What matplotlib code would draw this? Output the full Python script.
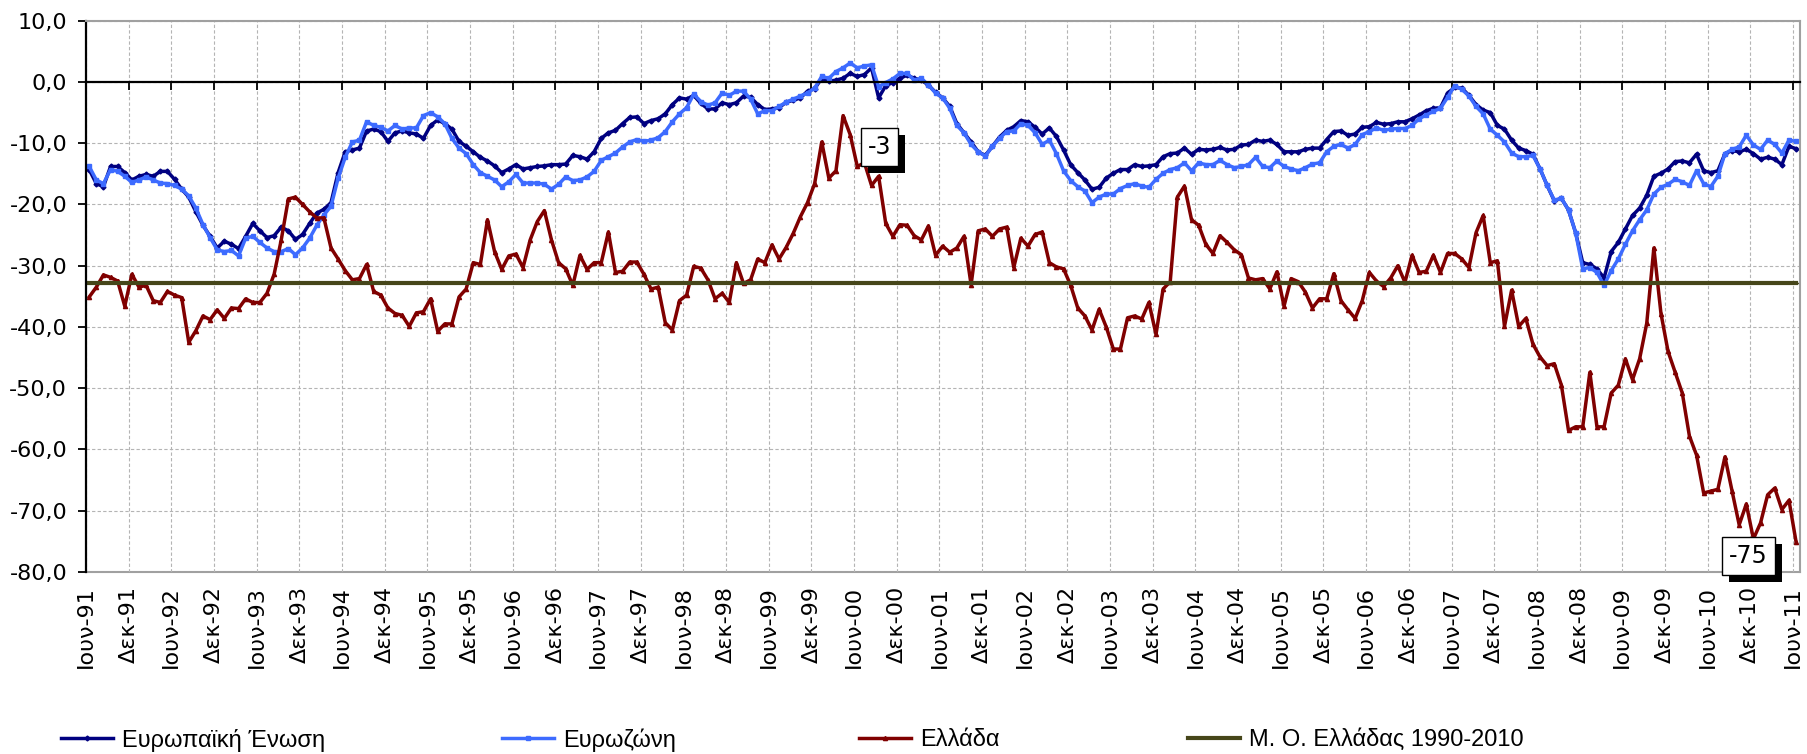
import numpy as np
import matplotlib
matplotlib.use("Agg")
import matplotlib.pyplot as plt
from matplotlib import patheffects

# Monthly consumer confidence indicator, Jun-91 .. Jun-11
eu = [-14.3, -16.6, -17.1, -13.8, -13.8, -14.8, -16.0, -15.4, -15.1, -15.4,
      -14.6, -14.6, -15.9, -17.5, -18.8, -21.2, -23.4, -25.2, -27.1, -26.0,
      -26.5, -27.2, -25.2, -23.1, -24.3, -25.4, -25.1, -23.7, -24.3, -25.7,
      -24.9, -23.1, -21.4, -20.8, -19.7, -14.8, -11.4, -11.1, -10.8, -8.0,
      -7.7, -8.1, -9.7, -8.3, -8.0, -8.3, -8.5, -9.2, -7.1, -6.2,
      -6.8, -7.7, -9.7, -10.5, -11.4, -12.3, -12.9, -13.7, -14.8, -14.2,
      -13.5, -14.2, -14.0, -13.8, -13.7, -13.5, -13.5, -13.4, -12.0, -12.2,
      -12.6, -11.4, -9.2, -8.3, -7.9, -6.8, -5.8, -5.7, -6.8, -6.3,
      -6.0, -5.2, -3.7, -2.6, -2.8, -2.2, -3.5, -4.4, -4.4, -3.4,
      -3.7, -3.4, -2.3, -2.5, -3.7, -4.5, -4.4, -4.2, -3.3, -3.0,
      -2.6, -1.5, -1.1, 0.6, 0.1, 0.3, 0.6, 1.4, 0.9, 1.2,
      2.3, -2.6, -0.6, -0.1, 0.6, 1.1, 0.6, 0.3, -0.5, -1.7,
      -2.6, -4.0, -6.8, -8.3, -9.8, -11.4, -12.0, -10.5, -9.0, -7.9,
      -7.3, -6.3, -6.5, -7.4, -8.5, -7.5, -8.9, -11.1, -13.5, -14.8,
      -16.0, -17.5, -17.2, -15.7, -14.9, -14.3, -14.3, -13.5, -13.8, -13.7,
      -13.5, -12.2, -11.7, -11.6, -10.8, -11.8, -11.0, -11.1, -11.0, -10.7,
      -11.1, -11.0, -10.3, -10.2, -9.5, -9.7, -9.5, -10.2, -11.4, -11.4,
      -11.4, -11.0, -10.8, -10.8, -9.4, -8.1, -8.0, -8.7, -8.5, -7.4,
      -7.3, -6.6, -6.9, -6.8, -6.5, -6.5, -6.0, -5.4, -4.7, -4.3,
      -4.2, -1.8, -0.9, -1.0, -2.2, -3.7, -4.6, -5.0, -7.1, -7.7,
      -9.5, -10.8, -11.2, -11.8, -14.2, -16.9, -19.4, -19.0, -20.9, -24.6,
      -29.5, -29.8, -30.5, -32.0, -27.7, -26.2, -24.0, -21.8, -20.6, -18.5,
      -15.4, -14.9, -14.2, -13.0, -12.9, -13.2, -11.8, -14.5, -14.8, -14.5,
      -11.7, -11.2, -11.4, -11.0, -11.7, -12.6, -12.3, -12.6, -13.5, -10.5,
      -10.9]

ez = [-13.8, -16.0, -16.6, -14.3, -14.6, -15.4, -16.4, -16.0, -15.5, -16.0,
      -16.5, -16.6, -16.9, -17.5, -18.6, -20.6, -23.3, -25.4, -27.4, -27.7,
      -27.5, -28.4, -25.5, -25.2, -26.2, -27.1, -27.7, -27.7, -27.2, -28.2,
      -27.1, -25.5, -23.4, -21.7, -20.3, -15.7, -12.3, -9.8, -9.5, -6.5,
      -7.1, -7.4, -8.0, -7.1, -7.7, -7.5, -7.5, -5.5, -5.0, -5.7,
      -6.8, -9.2, -10.8, -11.7, -13.5, -14.8, -15.4, -16.0, -17.1, -16.3,
      -15.1, -16.5, -16.5, -16.5, -16.7, -17.5, -16.7, -15.5, -16.1, -16.0,
      -15.5, -14.6, -12.8, -12.2, -11.6, -10.6, -9.8, -9.4, -9.7, -9.5,
      -9.1, -8.1, -6.5, -5.2, -4.2, -2.0, -3.2, -3.8, -3.4, -1.8,
      -2.2, -1.5, -1.5, -2.8, -5.2, -4.7, -4.7, -4.0, -3.3, -2.8,
      -2.3, -1.8, -1.0, 0.9, 0.6, 1.7, 2.3, 3.1, 2.3, 2.6,
      2.8, -0.8, -0.1, 0.5, 1.4, 1.4, 0.3, 0.6, -0.5, -1.8,
      -2.6, -4.3, -7.1, -8.3, -10.2, -11.4, -12.1, -10.5, -9.2, -8.1,
      -8.0, -6.8, -7.1, -8.3, -10.2, -9.5, -11.7, -14.5, -16.1, -17.1,
      -17.8, -19.7, -18.8, -18.3, -18.3, -17.4, -16.9, -16.6, -17.0, -17.2,
      -15.9, -14.9, -14.3, -14.0, -13.2, -14.5, -13.2, -13.5, -13.5, -12.8,
      -13.5, -14.0, -13.8, -13.5, -12.3, -13.8, -14.0, -12.9, -13.8, -14.2,
      -14.5, -14.0, -13.4, -13.2, -11.4, -10.5, -10.2, -10.8, -10.2, -8.6,
      -8.1, -7.5, -7.9, -7.7, -7.6, -7.6, -7.1, -6.0, -5.4, -4.8,
      -4.3, -2.5, -0.6, -1.2, -2.3, -4.0, -5.2, -7.7, -8.7, -9.8,
      -11.6, -12.2, -12.2, -12.0, -14.2, -16.9, -19.3, -19.0, -20.9, -24.6,
      -30.5, -30.3, -31.1, -33.2, -30.8, -28.9, -26.5, -24.3, -22.5, -20.9,
      -18.3, -17.2, -16.7, -15.9, -16.3, -16.9, -14.5, -16.6, -17.1, -15.4,
      -11.7, -11.0, -10.6, -8.7, -10.3, -11.0, -9.5, -10.2, -11.6, -9.5,
      -9.7]

greece = [-35.1, -33.5, -31.5, -31.9, -32.5, -36.6, -31.4, -33.5, -33.2, -35.7,
          -36.0, -34.2, -34.8, -35.2, -42.5, -40.6, -38.2, -38.8, -37.2, -38.6,
          -36.9, -37.0, -35.4, -36.0, -36.0, -34.5, -31.4, -25.8, -19.1, -18.8,
          -20.0, -21.2, -22.2, -22.2, -27.1, -28.9, -30.8, -32.3, -32.1, -29.8,
          -34.2, -34.8, -36.9, -37.8, -38.1, -39.9, -37.7, -37.5, -35.4, -40.7,
          -39.5, -39.5, -35.1, -33.8, -29.5, -29.8, -22.5, -27.7, -30.6, -28.4,
          -28.1, -30.3, -25.8, -22.8, -21.0, -25.8, -29.5, -30.5, -33.2, -28.3,
          -30.6, -29.5, -29.5, -24.5, -31.1, -30.9, -29.4, -29.4, -31.4, -33.8,
          -33.5, -39.3, -40.5, -35.7, -34.8, -30.1, -30.4, -32.3, -35.4, -34.5,
          -36.0, -29.5, -32.9, -32.3, -28.9, -29.5, -26.6, -28.9, -27.0, -24.7,
          -22.0, -19.7, -16.6, -9.8, -15.7, -14.5, -5.5, -8.6, -13.8, -13.2,
          -16.9, -15.4, -23.1, -25.2, -23.3, -23.4, -25.1, -25.8, -23.5, -28.3,
          -26.8, -27.8, -27.1, -25.2, -33.1, -24.3, -24.0, -25.2, -24.0, -23.7,
          -30.3, -25.5, -26.8, -24.9, -24.5, -29.5, -30.2, -30.5, -33.2, -36.9,
          -38.2, -40.5, -37.1, -40.0, -43.6, -43.6, -38.5, -38.2, -38.7, -36.0,
          -41.2, -33.8, -32.6, -18.8, -17.0, -22.5, -23.4, -26.5, -28.0, -25.1,
          -26.2, -27.4, -28.2, -32.0, -32.3, -32.1, -33.8, -31.0, -36.6, -32.1,
          -32.6, -34.3, -36.9, -35.4, -35.4, -31.3, -35.7, -37.2, -38.6, -35.7,
          -31.1, -32.5, -33.4, -32.0, -30.0, -32.7, -28.3, -31.1, -30.9, -28.3,
          -31.1, -28.0, -28.0, -28.9, -30.3, -24.6, -21.8, -29.5, -29.2, -39.9,
          -34.0, -39.9, -38.6, -42.8, -44.9, -46.3, -46.0, -49.5, -56.9, -56.3,
          -56.3, -47.4, -56.3, -56.3, -50.8, -49.5, -45.2, -48.6, -45.2, -39.4,
          -27.1, -37.8, -44.0, -47.4, -50.8, -57.8, -60.9, -67.1, -66.8, -66.5,
          -61.2, -66.8, -72.3, -68.9, -74.6, -72.0, -67.4, -66.3, -69.8, -68.3,
          -75.1]

greece_avg = -32.8  # Μ. Ο. Ελλάδας 1990-2010

series_names = ["Ευρωπαϊκή Ένωση", "Ευρωζώνη", "Ελλάδα", "Μ. Ο. Ελλάδας 1990-2010"]

# tick labels every six months
tick_labels = []
for year in range(1991, 2012):
    tick_labels.append("Ιουν-%02d" % (year % 100))
    if year < 2011:
        tick_labels.append("Δεκ-%02d" % (year % 100))

n = len(eu)
x = np.arange(n) + 0.45   # mid-month on a date axis
ticks = np.arange(0, n, 6)

W, H = 1808, 754
fig = plt.figure(figsize=(W / 100, H / 100), dpi=100)
ax = fig.add_axes([86 / W, 1 - 572 / H, (1800 - 86) / W, (572 - 20.7) / H])

lw = 2.5
l1, = ax.plot(x, eu, color="#000080", lw=lw, marker="D", ms=2.5, label=series_names[0])
l2, = ax.plot(x, ez, color="#3d6bff", lw=lw, marker="s", ms=2.5, label=series_names[1])
l3, = ax.plot(x, greece, color="#800000", lw=lw, marker="^", ms=3, label=series_names[2])
l4, = ax.plot(x, [greece_avg] * n, color="#46461a", lw=3.0, marker="_", ms=5,
              label=series_names[3])

ax.set_xlim(0, n)
ax.set_ylim(-80, 10)
yt = np.arange(-80, 11, 10)
ax.set_yticks(yt)
ax.set_yticklabels([("%.1f" % v).replace(".", ",") for v in yt])
ax.tick_params(axis="y", direction="out", length=5.5, width=1.3, pad=8, labelsize=16)

# x axis line crosses at zero, with its tick marks there
ax.set_xticks(ticks)
ax.spines["bottom"].set_position(("data", 0))
ax.spines["bottom"].set_color("black")
ax.spines["bottom"].set_linewidth(1.6)
ax.tick_params(axis="x", direction="out", length=5.5, width=1.3, labelbottom=False)

# labels at the bottom of the plot area
sec = ax.secondary_xaxis("bottom")
sec.set_xticks(ticks)
sec.set_xticklabels(tick_labels, rotation=90)
sec.tick_params(length=0, pad=10, labelsize=16)
sec.spines["bottom"].set_color("#a0a0a0")
sec.spines["bottom"].set_linewidth(1.5)

ax.spines["left"].set_color("black")
ax.spines["left"].set_linewidth(1.6)
for s in ["top", "right"]:
    ax.spines[s].set_color("#a0a0a0")
    ax.spines[s].set_linewidth(1.5)

ax.grid(True, color="#b4b4b4", linestyle=(0, (3, 2)), linewidth=0.8)
ax.set_axisbelow(True)

# data labels with shadow
shadow = [patheffects.withSimplePatchShadow(offset=(5, -5), shadow_rgbFace="black", alpha=1.0)]
i_eu, i_gr = 111, 234
for xi, yi, off in [(x[i_eu], eu[i_eu], (1, -49)), (x[i_gr], greece[i_gr], (-5, -17))]:
    ann = ax.annotate("%.0f" % yi, xy=(xi, yi), xytext=off, textcoords="offset pixels",
                      ha="center", va="center", fontsize=17, annotation_clip=False,
                      bbox=dict(boxstyle="square,pad=0.3", fc="white", ec="black", lw=1))
    ann.get_bbox_patch().set_path_effects(shadow)
    ann.set_zorder(10)

# legend entries spread along the bottom
for h, xpos in zip([l1, l2, l3, l4], [61, 502, 859, 1188]):
    fig.legend(handles=[h], loc="center left", bbox_to_anchor=(xpos / W, 1 - 740 / H),
               frameon=False, borderpad=0, borderaxespad=0, handlelength=2.2,
               handletextpad=0.4, prop={"family": "Liberation Sans", "size": 17})

fig.savefig("out.png", dpi=100)
